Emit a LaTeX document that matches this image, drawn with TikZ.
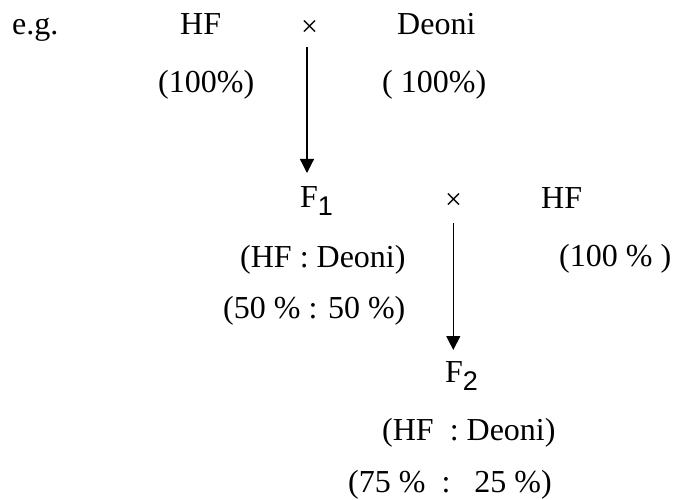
\documentclass[tikz,border=0pt]{standalone}
\usepackage{fontspec}
\setmainfont{Liberation Serif}
\newfontfamily\subfont{Liberation Sans}
\usetikzlibrary{arrows.meta}
\tikzset{
  lbl/.style={inner sep=0pt, anchor=base west, font=\fontsize{32}{38}\selectfont},
  cross/.style={inner sep=0pt, anchor=center, font=\fontsize{30}{36}\selectfont},
  arr/.style={line width=1.2pt, -{Triangle[width=14pt,length=14pt]}}
}
\newcommand{\subn}[1]{\raisebox{-8pt}{\subfont\fontsize{27}{30}\selectfont #1}}
\begin{document}
\begin{tikzpicture}[x=1pt,y=-1pt]
\useasboundingbox (0,0) rectangle (673,500);
\node[lbl] (eg) at (12,35) {e.g.};
\node[lbl] (hf1) at (180,35) {HF};
\node[cross] (x1) at (309.5,28) {×};
\node[lbl] (deoni1) at (397,35) {Deoni};
\node[lbl] (p1) at (158,93) {(100\%)};
\node[lbl] (p2) at (382,93) {( 100\%)};
\coordinate (a1s) at (307,47);
\coordinate (a1e) at (307,173);
\draw[arr] (a1s) -- (a1e);
\node[lbl] (f1) at (300,208) {F\subn{1}};
\node[cross] (x2) at (453.5,201) {×};
\node[lbl] (hf2) at (541,209) {HF};
\node[lbl] (r1) at (240,268) {(HF : Deoni)};
\node[lbl] (p3) at (559,267) {(100 \% )};
\node[lbl] (r2) at (223,318) {(50 \% : 50 \%)};
\coordinate (a2s) at (453.3,223);
\coordinate (a2e) at (453.3,350);
\draw[arr] (a2s) -- (a2e);
\node[lbl] (f2) at (445,382) {F\subn{2}};
\node[lbl] (r3) at (382,440) {(HF~ : Deoni)};
\node[lbl] (r4) at (348,492) {(75 \%~~:~~~25 \%)};
\end{tikzpicture}
\end{document}
